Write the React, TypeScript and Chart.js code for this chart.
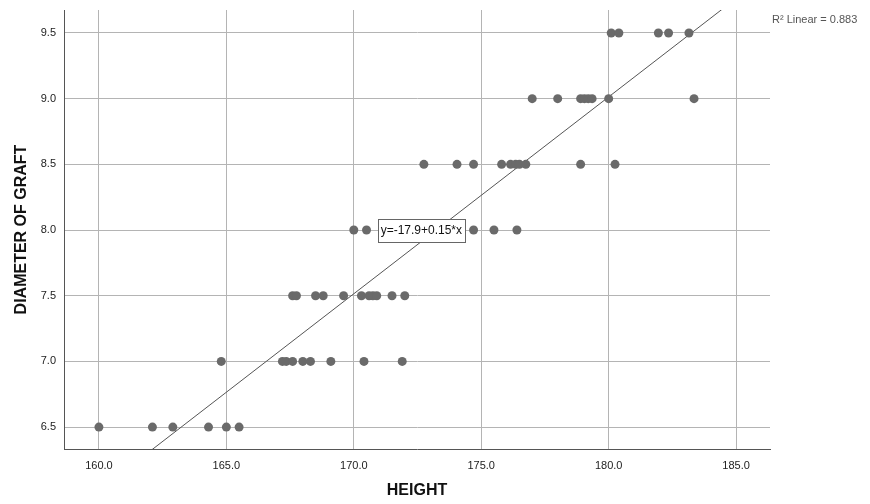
import React, { useEffect, useRef } from "react";
import { Chart, registerables } from "chart.js";

Chart.register(...registerables);

// Data (HEIGHT vs DIAMETER OF GRAFT)
const heights65 = [160.0, 162.1, 162.9, 164.3, 165.0, 165.5];
const heights70 = [164.8, 167.2, 167.35, 167.6, 168.0, 168.3, 169.1, 170.4, 171.9];
const heights75 = [167.6, 167.75, 168.5, 168.8, 169.6, 170.3, 170.6, 170.75, 170.9, 171.5, 172.0];
const heights80 = [170.0, 170.5, 174.7, 175.5, 176.4];
const heights85 = [172.75, 174.05, 174.7, 175.8, 176.15, 176.35, 176.5, 176.75, 178.9, 180.25];
const heights90 = [177.0, 178.0, 178.9, 179.05, 179.2, 179.35, 180.0, 183.35];
const heights95 = [180.1, 180.4, 181.95, 182.35, 183.15];
const diameterLevels = [6.5, 7.0, 7.5, 8.0, 8.5, 9.0, 9.5];
const heightGroups = [heights65, heights70, heights75, heights80, heights85, heights90, heights95];

const xTicks = [160, 165, 170, 175, 180, 185];
const yTicks = [6.5, 7.0, 7.5, 8.0, 8.5, 9.0, 9.5];
const xRange = [158.63, 186.33];
const yRange = [6.333, 9.675];

const equationText = "y=-17.9+0.15*x";
const equationAnchor = { x: 172.65, y: 8.0 };
const r2Text = "R² Linear = 0.883";

export default function App() {
  const ref = useRef<HTMLCanvasElement | null>(null);

  useEffect(() => {
    if (!ref.current) return;
    const points: { x: number; y: number }[] = [];
    heightGroups.forEach((g, i) => g.forEach((h) => points.push({ x: h, y: diameterLevels[i] })));

    // least squares fit
    const n = points.length;
    const mx = points.reduce((s, p) => s + p.x, 0) / n;
    const my = points.reduce((s, p) => s + p.y, 0) / n;
    let sxy = 0, sxx = 0;
    points.forEach((p) => { sxy += (p.x - mx) * (p.y - my); sxx += (p.x - mx) * (p.x - mx); });
    const slope = sxy / sxx;
    const intercept = my - slope * mx;
    const fit = [
      { x: xRange[0], y: intercept + slope * xRange[0] },
      { x: xRange[1], y: intercept + slope * xRange[1] },
    ];

    const labelPlugin = {
      id: "labels",
      afterDatasetsDraw(chart: any) {
        const ctx = chart.ctx;
        const xs = chart.scales.x, ys = chart.scales.y;
        const cx = xs.getPixelForValue(equationAnchor.x);
        const cy = ys.getPixelForValue(equationAnchor.y);
        ctx.save();
        ctx.font = "12px 'Liberation Sans', Arial, sans-serif";
        const w = ctx.measureText(equationText).width + 6;
        const h = 23;
        ctx.fillStyle = "#ffffff";
        ctx.fillRect(Math.round(cx - w / 2) + 0.5, Math.round(cy - h / 2) + 0.5, Math.round(w), h);
        ctx.strokeStyle = "#666666";
        ctx.lineWidth = 1;
        ctx.strokeRect(Math.round(cx - w / 2) + 0.5, Math.round(cy - h / 2) + 0.5, Math.round(w), h);
        ctx.fillStyle = "#111111";
        ctx.textAlign = "center";
        ctx.textBaseline = "middle";
        ctx.fillText(equationText, cx, cy + 1);

        ctx.font = "11px 'Liberation Sans', Arial, sans-serif";
        ctx.fillStyle = "#555555";
        ctx.textAlign = "left";
        ctx.fillText(r2Text, chart.chartArea.right + 2, 20);
        ctx.restore();
      },
    };

    const chart = new Chart(ref.current, {
      type: "scatter",
      data: {
        datasets: [
          {
            type: "line",
            data: fit,
            borderColor: "#555555",
            borderWidth: 1,
            pointRadius: 0,
            fill: false,
            order: 2,
          } as any,
          {
            data: points,
            backgroundColor: "#6a6a6a",
            borderColor: "#6a6a6a",
            pointRadius: 4.5,
            pointBorderWidth: 0,
            order: 1,
          },
        ],
      },
      options: {
        animation: false,
        responsive: false,
        layout: { padding: { top: 10, right: 100, left: 0, bottom: 0 } },
        plugins: { legend: { display: false }, tooltip: { enabled: false } },
        scales: {
          x: {
            type: "linear",
            min: xRange[0],
            max: xRange[1],
            afterBuildTicks: (s: any) => { s.ticks = xTicks.map((v) => ({ value: v })); },
            afterFit: (s: any) => { s.height = 55; s.paddingLeft = 0; s.paddingRight = 0; },
            grid: { color: "#b4b4b4", drawTicks: false, lineWidth: 1 },
            border: { color: "#555555", width: 1 },
            ticks: {
              color: "#222222",
              padding: 10,
              font: { family: "'Liberation Sans', Arial, sans-serif", size: 11 },
              callback: (v: any) => Number(v).toFixed(1),
            },
            title: {
              display: true,
              text: "HEIGHT",
              color: "#111111",
              font: { family: "'Liberation Sans', Arial, sans-serif", size: 16, weight: "bold" },
              padding: { top: 0, bottom: 4 },
            },
          },
          y: {
            type: "linear",
            min: yRange[0],
            max: yRange[1],
            afterBuildTicks: (s: any) => { s.ticks = yTicks.map((v) => ({ value: v })); },
            afterFit: (s: any) => { s.width = 64; s.paddingTop = 0; s.paddingBottom = 0; },
            grid: { color: "#b4b4b4", drawTicks: false, lineWidth: 1 },
            border: { color: "#555555", width: 1 },
            ticks: {
              color: "#222222",
              padding: 8,
              font: { family: "'Liberation Sans', Arial, sans-serif", size: 11 },
              callback: (v: any) => Number(v).toFixed(1),
            },
            title: {
              display: true,
              text: "DIAMETER OF GRAFT",
              color: "#111111",
              font: { family: "'Liberation Sans', Arial, sans-serif", size: 16, weight: "bold" },
              padding: { top: 12, bottom: 0 },
            },
          },
        },
      },
      plugins: [labelPlugin],
    });
    return () => chart.destroy();
  }, []);

  return (
    <div style={{ position: "fixed", left: 0, top: 0, width: 870, height: 504, background: "#fff" }}>
      <canvas ref={ref} width={870} height={504} />
    </div>
  );
}
